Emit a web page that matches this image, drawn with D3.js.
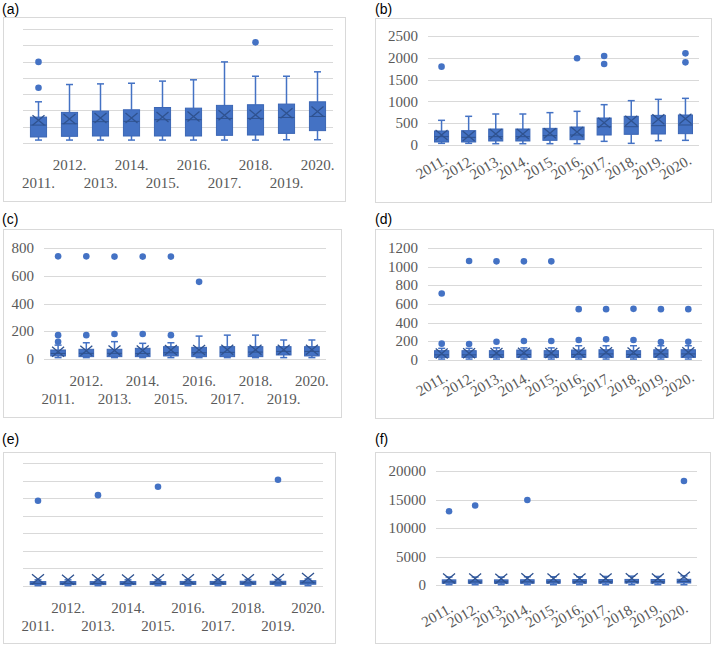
<!DOCTYPE html>
<html>
<head>
<meta charset="utf-8">
<script src="https://cdn.jsdelivr.net/npm/d3@7"></script>
<style>
  body { margin: 0; background: #fff; }
  svg { display: block; }
</style>
</head>
<body>
<script>
const years = ["2011.", "2012.", "2013.", "2014.", "2015.", "2016.", "2017.", "2018.", "2019.", "2020."];

// each row: [low whisker, q1, median, q3, high whisker, mean]
const boxA = [
  [0.18, 0.37, 1.10, 1.59, 2.53, 1.39],
  [0.18, 0.41, 1.18, 1.88, 3.59, 1.47],
  [0.18, 0.43, 1.31, 1.96, 3.63, 1.53],
  [0.18, 0.43, 1.33, 2.04, 3.67, 1.53],
  [0.18, 0.43, 1.43, 2.18, 3.80, 1.59],
  [0.18, 0.43, 1.43, 2.14, 3.88, 1.63],
  [0.18, 0.47, 1.51, 2.31, 4.98, 1.71],
  [0.18, 0.49, 1.51, 2.35, 4.10, 1.73],
  [0.20, 0.59, 1.57, 2.39, 4.10, 1.82],
  [0.20, 0.76, 1.63, 2.53, 4.37, 1.94]
];
const outA = [[0, 3.39], [0, 4.98], [7, 6.18]];

const boxB = [
  [38, 69, 191, 321, 566, 229],
  [38, 69, 176, 329, 658, 206],
  [30, 92, 191, 367, 711, 252],
  [30, 92, 191, 367, 711, 252],
  [30, 107, 214, 382, 742, 268],
  [30, 122, 229, 413, 772, 298],
  [84, 229, 420, 619, 925, 512],
  [38, 245, 420, 657, 1017, 558],
  [99, 252, 443, 680, 1047, 589],
  [107, 260, 459, 688, 1070, 604]
];
const outB = [[0, 1797], [5, 1988], [6, 2041], [6, 1858], [9, 2102], [9, 1896]];

const boxC = [
  [10, 22, 40, 65, 100, 53],
  [10, 17, 41, 70, 117, 60],
  [10, 17, 41, 70, 125, 62],
  [10, 17, 40, 77, 113, 62],
  [10, 22, 45, 89, 117, 65],
  [10, 17, 45, 84, 165, 65],
  [10, 17, 48, 89, 172, 66],
  [10, 17, 50, 89, 172, 66],
  [10, 29, 55, 89, 137, 66],
  [10, 22, 55, 89, 137, 66]
];
const outC = [[0, 124], [0, 172], [0, 740], [1, 172], [1, 740], [2, 180], [2, 738],
  [3, 180], [3, 738], [4, 172], [4, 738], [5, 556]];

const boxD = [
  [10, 28, 55, 100, 125, 70],
  [10, 28, 55, 100, 125, 72],
  [10, 28, 55, 100, 130, 75],
  [10, 28, 60, 107, 130, 78],
  [10, 28, 55, 100, 130, 76],
  [10, 28, 60, 107, 153, 80],
  [10, 28, 65, 110, 153, 82],
  [10, 28, 60, 100, 153, 80],
  [10, 28, 65, 110, 153, 80],
  [10, 28, 65, 110, 153, 82]
];
const outD = [[0, 175], [0, 712], [1, 171], [1, 1060], [2, 196], [2, 1057], [3, 203], [3, 1057],
  [4, 203], [4, 1057], [5, 214], [5, 545], [6, 221], [6, 545], [7, 214], [7, 548],
  [8, 192], [8, 545], [9, 196], [9, 545]];

const boxE = [
  [0.02, 0.08, 0.15, 0.25, 0.35, 0.38],
  [0.02, 0.08, 0.15, 0.25, 0.35, 0.36],
  [0.02, 0.08, 0.15, 0.25, 0.35, 0.38],
  [0.02, 0.08, 0.15, 0.25, 0.35, 0.37],
  [0.02, 0.08, 0.15, 0.25, 0.35, 0.39],
  [0.02, 0.09, 0.16, 0.26, 0.36, 0.38],
  [0.02, 0.09, 0.16, 0.26, 0.36, 0.38],
  [0.02, 0.09, 0.17, 0.27, 0.37, 0.39],
  [0.02, 0.09, 0.17, 0.27, 0.37, 0.40],
  [0.02, 0.10, 0.18, 0.30, 0.40, 0.45]
];
const outE = [[0, 4.85], [2, 5.17], [4, 5.65], [8, 6.05]];

const boxF = [
  [50, 300, 550, 900, 1400, 1150],
  [50, 300, 550, 900, 1400, 1150],
  [50, 300, 550, 900, 1400, 1100],
  [50, 300, 560, 920, 1450, 1200],
  [50, 310, 570, 930, 1450, 1150],
  [50, 310, 580, 940, 1450, 1150],
  [50, 320, 590, 950, 1500, 1150],
  [50, 340, 620, 980, 1550, 1200],
  [50, 320, 600, 960, 1500, 1150],
  [50, 350, 620, 1000, 1600, 1450]
];
const outF = [[0, 12950], [1, 13950], [3, 14900], [9, 18250]];

const panels = [
  { tag: "(a)", tx: 2, ty: 14, frame: [3, 17, 345, 201], plot: [23, 29, 333, 143], max: 7, step: 1, labels: false, rot: false, box: boxA, out: outA },
  { tag: "(b)", tx: 375, ty: 14, frame: [375, 18, 711, 202], plot: [428, 36, 699, 145], max: 2500, step: 500, labels: true, rot: true, rdx: 7, rdy: 18, box: boxB, out: outB },
  { tag: "(c)", tx: 2, ty: 224, frame: [3, 229, 341, 417], plot: [44, 248, 326, 359], max: 800, step: 200, labels: true, rot: false, box: boxC, out: outC },
  { tag: "(d)", tx: 375, ty: 224, frame: [375, 229, 713, 418], plot: [428, 248, 702, 360], max: 1200, step: 200, labels: true, rot: true, rdx: 7, rdy: 20, box: boxD, out: outD },
  { tag: "(e)", tx: 2, ty: 444, frame: [3, 452, 335, 643], plot: [23, 463, 323, 586], max: 7, step: 1, labels: false, rot: false, box: boxE, out: outE },
  { tag: "(f)", tx: 375, ty: 444, frame: [375, 452, 710, 643], plot: [436, 471, 697, 585], max: 20000, step: 5000, labels: true, rot: true, rdx: 5, rdy: 26, box: boxF, out: outF }
];

const fill = "#4472C4", dark = "#2F528F", grid = "#D9D9D9", textCol = "#595959";

const svg = d3.select("body").append("svg")
    .attr("width", 716)
    .attr("height", 646);

function tickText(sel) {
    sel.style("font-family", "Liberation Serif")
       .style("font-size", "15px")
       .style("fill", textCol);
}

panels.forEach(p => {
    const [fx0, fy0, fx1, fy1] = p.frame;
    const [px0, py0, px1, py1] = p.plot;

    svg.append("text")
        .attr("x", p.tx).attr("y", p.ty)
        .style("font-family", "Liberation Sans")
        .style("font-size", "14px")
        .style("fill", "#000")
        .text(p.tag);

    svg.append("rect")
        .attr("x", fx0 + 0.5).attr("y", fy0 + 0.5)
        .attr("width", fx1 - fx0).attr("height", fy1 - fy0)
        .attr("fill", "none")
        .attr("stroke", grid);

    const x = d3.scaleBand().domain(years).range([px0, px1]);
    const y = d3.scaleLinear().domain([0, p.max]).range([py1, py0]);
    const ticks = d3.range(0, p.max + p.step / 2, p.step);

    const g = svg.append("g");

    // gridlines
    g.selectAll(".grid")
      .data(ticks)
      .join("line")
        .attr("x1", px0).attr("x2", px1)
        .attr("y1", d => Math.round(y(d)) + 0.5)
        .attr("y2", d => Math.round(y(d)) + 0.5)
        .attr("stroke", grid)
        .attr("stroke-width", 1.2);

    // y labels
    if (p.labels) {
        g.selectAll(".ylab")
          .data(ticks)
          .join("text")
            .attr("x", px0 - 10)
            .attr("y", d => y(d))
            .attr("dy", "0.34em")
            .attr("text-anchor", "end")
            .call(tickText)
            .text(d => d);
    }

    // x labels
    const xl = g.selectAll(".xlab")
      .data(years)
      .join("text")
        .call(tickText)
        .text(d => d);
    if (p.rot) {
        xl.attr("text-anchor", "end")
          .attr("transform", d => `translate(${x(d) + x.bandwidth() / 2 + p.rdx},${py1 + p.rdy}) rotate(-30)`);
    } else {
        xl.attr("text-anchor", "middle")
          .attr("x", d => x(d) + x.bandwidth() / 2)
          .attr("y", (d, i) => py1 + (i % 2 === 1 ? 27 : 45));
    }

    const bw = x.bandwidth() * 0.52;
    const cap = 7;

    const cells = g.selectAll(".cell")
      .data(p.box)
      .join("g")
        .attr("transform", (d, i) => `translate(${x(years[i]) + x.bandwidth() / 2},0)`);

    // whiskers
    cells.append("line")
        .attr("y1", d => y(d[0])).attr("y2", d => y(d[1]))
        .attr("stroke", fill).attr("stroke-width", 1.5);
    cells.append("line")
        .attr("y1", d => y(d[3])).attr("y2", d => y(d[4]))
        .attr("stroke", fill).attr("stroke-width", 1.5);
    cells.append("line")
        .attr("x1", -cap / 2).attr("x2", cap / 2)
        .attr("y1", d => y(d[0])).attr("y2", d => y(d[0]))
        .attr("stroke", fill).attr("stroke-width", 1.5);
    cells.append("line")
        .attr("x1", -cap / 2).attr("x2", cap / 2)
        .attr("y1", d => y(d[4])).attr("y2", d => y(d[4]))
        .attr("stroke", fill).attr("stroke-width", 1.5);

    // box
    cells.append("rect")
        .attr("x", -bw / 2)
        .attr("width", bw)
        .attr("y", d => y(d[3]))
        .attr("height", d => Math.max(2, y(d[1]) - y(d[3])))
        .attr("fill", fill)
        .attr("stroke", "#3B66B5")
        .attr("stroke-width", 1);

    // median
    cells.append("line")
        .attr("x1", -bw / 2).attr("x2", bw / 2)
        .attr("y1", d => y(d[2])).attr("y2", d => y(d[2]))
        .attr("stroke", dark).attr("stroke-width", 1);

    // mean marker (X)
    cells.append("path")
        .attr("d", d => {
            const my = y(d[5]);
            return `M-6,${my - 5}L6,${my + 5}M6,${my - 5}L-6,${my + 5}`;
        })
        .attr("fill", "none")
        .attr("stroke", dark)
        .attr("stroke-width", 1.3);

    // outliers
    g.selectAll(".out")
      .data(p.out)
      .join("circle")
        .attr("cx", d => x(years[d[0]]) + x.bandwidth() / 2)
        .attr("cy", d => y(d[1]))
        .attr("r", 3.3)
        .attr("fill", fill);
});
</script>
</body>
</html>
